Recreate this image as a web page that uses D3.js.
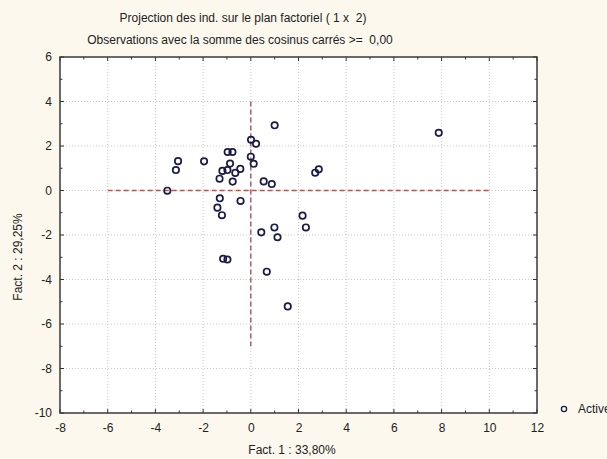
<!DOCTYPE html>
<html>
<head>
<meta charset="utf-8">
<script src="https://cdn.jsdelivr.net/npm/d3@7"></script>
<style>
  html, body { margin: 0; padding: 0; background: #fcf8ee; overflow: hidden; }
  svg { display: block; font-family: "Liberation Sans", Arial, sans-serif; }
  svg text { white-space: pre; }
</style>
</head>
<body>
<svg id="chart" width="607" height="459"></svg>
<script>
// Individual coordinates on factor 1 (x) and factor 2 (y)
const fact1 = [1.00, 0.01, 0.22, -0.97, -0.77, -3.05, -1.96, -3.14, 0.00, 0.12,
               -0.87, -0.44, -1.19, -0.98, -0.65, -1.31, -0.76, 0.54, 0.88, -3.50,
               2.70, 2.85, -1.30, -0.43, -1.40, -1.21, 2.17, 2.31, 0.99, 0.44,
               1.12, -1.16, -0.98, 0.67, 1.55, 7.88];
const fact2 = [2.93, 2.28, 2.10, 1.73, 1.73, 1.32, 1.31, 0.92, 1.52, 1.20,
               1.21, 0.97, 0.88, 0.92, 0.79, 0.53, 0.40, 0.41, 0.29, -0.01,
               0.80, 0.95, -0.35, -0.47, -0.77, -1.11, -1.13, -1.66, -1.66, -1.88,
               -2.10, -3.07, -3.10, -3.65, -5.21, 2.59];

const xTicks = [-8, -6, -4, -2, 0, 2, 4, 6, 8, 10, 12];
const yTicks = [-10, -8, -6, -4, -2, 0, 2, 4, 6];
const xDomain = [-8, 12];
const yDomain = [-10, 6];
// Extent of the dashed axes through the origin
const hAxisSpan = [-6, 10];
const vAxisSpan = [-7, 4];

const title = "Projection des ind. sur le plan factoriel ( 1 x  2)";
const subtitle = "Observations avec la somme des cosinus carrés >=  0,00";
const xLabel = "Fact. 1 : 33,80%";
const yLabel = "Fact. 2 : 29,25%";
const legendLabel = "Actives";

const svg = d3.select("#chart");
const L = 60, R = 537, T = 57, B = 413;

const x = d3.scaleLinear().domain(xDomain).range([L, R]);
const y = d3.scaleLinear().domain(yDomain).range([B, T]);
const fmt = d => String(d);

// plot background
svg.append("rect").attr("x", L).attr("y", T).attr("width", R - L).attr("height", B - T)
  .attr("fill", "#ffffff");

// grid
const grid = svg.append("g").attr("stroke", "#c9c9c9").attr("stroke-width", 1)
  .attr("stroke-dasharray", "1,2");
xTicks.slice(1, -1).forEach(v => {
  grid.append("line").attr("x1", x(v)).attr("x2", x(v)).attr("y1", T).attr("y2", B);
});
yTicks.slice(1, -1).forEach(v => {
  grid.append("line").attr("x1", L).attr("x2", R).attr("y1", y(v)).attr("y2", y(v));
});

// dashed axes through origin
svg.append("line")
  .attr("x1", x(hAxisSpan[0])).attr("x2", x(hAxisSpan[1]))
  .attr("y1", y(0)).attr("y2", y(0))
  .attr("stroke", "#c0504a").attr("stroke-width", 1.3).attr("stroke-dasharray", "5,3");
svg.append("line")
  .attr("x1", x(0)).attr("x2", x(0))
  .attr("y1", y(vAxisSpan[1])).attr("y2", y(vAxisSpan[0]))
  .attr("stroke", "#9a4a5a").attr("stroke-width", 1.3).attr("stroke-dasharray", "5,3");

// axes with inward ticks
const minorX = d3.range(xDomain[0], xDomain[1] + 1, 1);
const minorY = d3.range(yDomain[0], yDomain[1] + 1, 1);

const xAxis = d3.axisBottom(x).tickValues(xTicks).tickSize(0).tickPadding(10)
  .tickFormat(fmt);
const gx = svg.append("g").attr("transform", `translate(0,${B})`).call(xAxis);
gx.select(".domain").remove();
gx.selectAll("text").attr("font-size", 12).attr("fill", "#222")
  .attr("font-family", "Liberation Sans, Arial, sans-serif");

const yAxis = d3.axisLeft(y).tickValues(yTicks).tickSize(0).tickPadding(8)
  .tickFormat(fmt);
const gy = svg.append("g").attr("transform", `translate(${L},0)`).call(yAxis);
gy.select(".domain").remove();
gy.selectAll("text").attr("font-size", 12).attr("fill", "#222")
  .attr("font-family", "Liberation Sans, Arial, sans-serif");

const ticks = svg.append("g").attr("stroke", "#333").attr("stroke-width", 1);
minorX.forEach(v => {
  const len = v % 2 === 0 ? 4 : 2.5;
  ticks.append("line").attr("x1", x(v)).attr("x2", x(v)).attr("y1", B).attr("y2", B - len);
  ticks.append("line").attr("x1", x(v)).attr("x2", x(v)).attr("y1", T).attr("y2", T + len);
});
minorY.forEach(v => {
  const len = v % 2 === 0 ? 4 : 2.5;
  ticks.append("line").attr("y1", y(v)).attr("y2", y(v)).attr("x1", L).attr("x2", L + len);
  ticks.append("line").attr("y1", y(v)).attr("y2", y(v)).attr("x1", R).attr("x2", R - len);
});

// frame
svg.append("rect").attr("x", L).attr("y", T).attr("width", R - L).attr("height", B - T)
  .attr("fill", "none").attr("stroke", "#3a3a3a").attr("stroke-width", 1.5);

// points
svg.append("g").selectAll("circle")
  .data(fact1.map((v, i) => [v, fact2[i]]))
  .join("circle")
  .attr("cx", d => x(d[0])).attr("cy", d => y(d[1])).attr("r", 3.2)
  .attr("fill", "none").attr("stroke", "#1a1a48").attr("stroke-width", 1.7);

// titles
svg.append("text").attr("x", 243).attr("y", 22).attr("text-anchor", "middle")
  .attr("font-size", 12).attr("fill", "#222").text(title);
svg.append("text").attr("x", 240).attr("y", 44).attr("text-anchor", "middle")
  .attr("font-size", 12).attr("fill", "#222").text(subtitle);

// axis titles
svg.append("text").attr("x", 292).attr("y", 454).attr("text-anchor", "middle")
  .attr("font-size", 12).attr("fill", "#222").text(xLabel);
svg.append("text").attr("transform", "translate(22,257) rotate(-90)")
  .attr("text-anchor", "middle").attr("font-size", 12).attr("fill", "#222").text(yLabel);

// legend
svg.append("circle").attr("cx", 564).attr("cy", 409).attr("r", 2.6)
  .attr("fill", "none").attr("stroke", "#1a1a48").attr("stroke-width", 1.3);
svg.append("text").attr("x", 578).attr("y", 413).attr("font-size", 12).attr("fill", "#222")
  .text(legendLabel);
</script>
</body>
</html>
